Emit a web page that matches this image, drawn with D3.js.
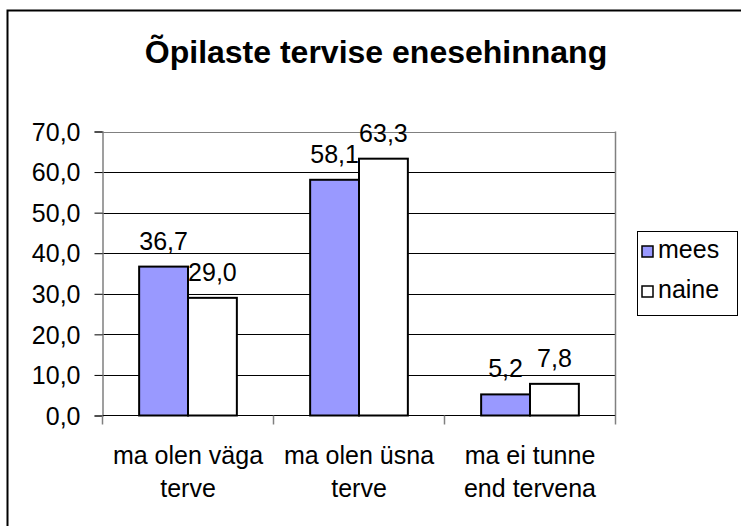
<!DOCTYPE html>
<html>
<head>
<meta charset="utf-8">
<script src="https://cdn.jsdelivr.net/npm/d3@7"></script>
<style>
  html, body { margin: 0; padding: 0; background: #fff; }
  svg { display: block; font-family: "Liberation Sans", Arial, sans-serif; }
</style>
</head>
<body>
<svg id="chart" width="741" height="526"></svg>
<script>
const title = "Õpilaste tervise enesehinnang";
const categories = [["ma olen väga", "terve"], ["ma olen üsna", "terve"], ["ma ei tunne", "end tervena"]];
const seriesNames = ["mees", "naine"];
const mees = [36.7, 58.1, 5.2];
const naine = [29.0, 63.3, 7.8];
const yTicks = [0, 10, 20, 30, 40, 50, 60, 70];
const colors = ["#9999FF", "#FFFFFF"];

const svg = d3.select("#chart");
const fmt = v => v.toFixed(1).replace(".", ",");

// outer border
svg.append("rect").attr("x", 7.5).attr("y", 10.5).attr("width", 760).attr("height", 560)
  .attr("fill", "#fff").attr("stroke", "#000").attr("stroke-width", 2);

const plot = { left: 102.5, right: 615.5, top: 131.5, bottom: 415.5 };

const y = d3.scaleLinear().domain([0, 70]).range([plot.bottom, plot.top]);
const x0 = d3.scaleBand().domain(d3.range(categories.length)).range([plot.left, plot.right]).paddingInner(0).paddingOuter(0);
const barW = x0.bandwidth() / 3.5;

// title
svg.append("text").attr("x", 376).attr("y", 63).attr("text-anchor", "middle")
  .attr("font-size", 32).attr("font-weight", "bold").text(title);

// gridlines
svg.append("g").selectAll("line").data(yTicks.filter(t => t > 0)).join("line")
  .attr("x1", plot.left).attr("x2", plot.right)
  .attr("y1", d => Math.round(y(d)) + 0.5).attr("y2", d => Math.round(y(d)) + 0.5)
  .attr("stroke", d => d === 70 ? "#808080" : "#000").attr("stroke-width", 1);

// right border of plot
svg.append("line").attr("x1", plot.right).attr("x2", plot.right).attr("y1", plot.top).attr("y2", plot.bottom)
  .attr("stroke", "#808080").attr("stroke-width", 1.5);

// y axis
const yAxis = d3.axisLeft(y).tickValues(yTicks).tickSize(8).tickPadding(14).tickFormat(fmt);
const gy = svg.append("g").attr("transform", `translate(${plot.left},0)`).call(yAxis);
gy.select(".domain").attr("stroke", "#808080").attr("stroke-width", 1.5);
gy.selectAll(".tick line").attr("stroke", "#000");
gy.selectAll(".tick text").attr("font-size", 25).attr("fill", "#000")
  .attr("font-family", '"Liberation Sans", Arial, sans-serif').attr("dy", "0.35em");

// x axis baseline and category ticks
const gx = svg.append("g");
gx.append("line").attr("x1", plot.left).attr("x2", plot.right).attr("y1", plot.bottom).attr("y2", plot.bottom)
  .attr("stroke", "#000").attr("stroke-width", 1);
const catEdges = d3.range(categories.length + 1).map(i => plot.left + i * x0.bandwidth());
gx.selectAll("line.ct").data(catEdges).join("line").attr("class", "ct")
  .attr("x1", d => d).attr("x2", d => d).attr("y1", plot.bottom).attr("y2", plot.bottom + 9)
  .attr("stroke", "#808080").attr("stroke-width", 1.5);

// category labels
categories.forEach((lines, i) => {
  const cx = x0(i) + x0.bandwidth() / 2;
  const t = svg.append("text").attr("text-anchor", "middle").attr("font-size", 25);
  lines.forEach((ln, j) => {
    t.append("tspan").attr("x", cx).attr("y", 464 + j * 33).text(ln);
  });
});

// bars
const series = [mees, naine];
series.forEach((vals, s) => {
  const g = svg.append("g");
  g.selectAll("rect").data(vals).join("rect")
    .attr("x", (d, i) => x0(i) + barW * 0.75 + s * barW)
    .attr("y", d => y(d))
    .attr("width", barW)
    .attr("height", d => plot.bottom - y(d))
    .attr("fill", colors[s]).attr("stroke", "#000").attr("stroke-width", 2);
  g.selectAll("text").data(vals).join("text")
    .attr("x", (d, i) => x0(i) + barW * 0.75 + s * barW + barW / 2)
    .attr("y", d => y(d) - 17)
    .attr("text-anchor", "middle").attr("font-size", 25).text(fmt);
});

// legend
const lg = svg.append("g");
lg.append("rect").attr("x", 637.5).attr("y", 231.5).attr("width", 100).attr("height", 84)
  .attr("fill", "#fff").attr("stroke", "#000").attr("stroke-width", 1);
seriesNames.forEach((n, i) => {
  lg.append("rect").attr("x", 642).attr("y", 246 + i * 40).attr("width", 11).attr("height", 11)
    .attr("fill", colors[i]).attr("stroke", "#000").attr("stroke-width", 1.5);
  lg.append("text").attr("x", 658).attr("y", 258 + i * 40).attr("font-size", 25).text(n);
});
</script>
</body>
</html>
